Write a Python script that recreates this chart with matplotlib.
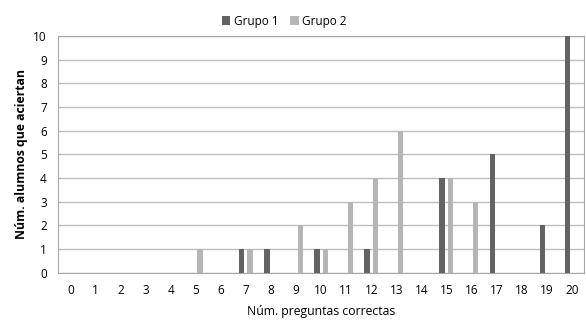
import numpy as np
import matplotlib.pyplot as plt

plt.rcParams['font.family'] = ['Open Sans', 'DejaVu Sans']

# datos
preguntas = list(range(21))
grupo1 = [0, 0, 0, 0, 0, 0, 0, 1, 1, 0, 1, 0, 1, 0, 0, 4, 0, 5, 0, 2, 10]
grupo2 = [0, 0, 0, 0, 0, 1, 0, 1, 0, 2, 1, 3, 4, 6, 0, 4, 3, 0, 0, 0, 0]

x = np.arange(len(preguntas))
w = 0.22

fig = plt.figure(figsize=(5.86, 3.26), dpi=100)
ax = fig.add_axes([0.099, 0.163, 0.898, 0.727])

ax.bar(x - 0.17, grupo1, width=w, color='#636363', label='Grupo 1', zorder=3)
ax.bar(x + 0.17, grupo2, width=w, color='#b5b5b5', label='Grupo 2', zorder=3)

ax.set_xlim(-0.5, 20.5)
ax.set_ylim(0, 10)
ax.set_xticks(x)
ax.set_xticklabels([str(p) for p in preguntas])
ax.set_yticks(range(11))
ax.tick_params(length=0, labelsize=8.5, pad=8)
ax.grid(axis='y', color='#bdbdbd', linewidth=1, zorder=0)
for s in ax.spines.values():
    s.set_color('#a6a6a6')

ax.set_xlabel('Núm. preguntas correctas', fontsize=8.8, labelpad=6)
ax.set_ylabel('Núm. alumnos que aciertan', fontsize=8.8, fontweight='bold', labelpad=4)

ax.legend(loc='lower center', bbox_to_anchor=(0.43, 1.0), ncol=2, frameon=False,
          fontsize=8.5, handlelength=0.7, handleheight=0.7, handletextpad=0.3,
          columnspacing=1.0, borderaxespad=0.3)

fig.savefig('out.png', dpi=100)
